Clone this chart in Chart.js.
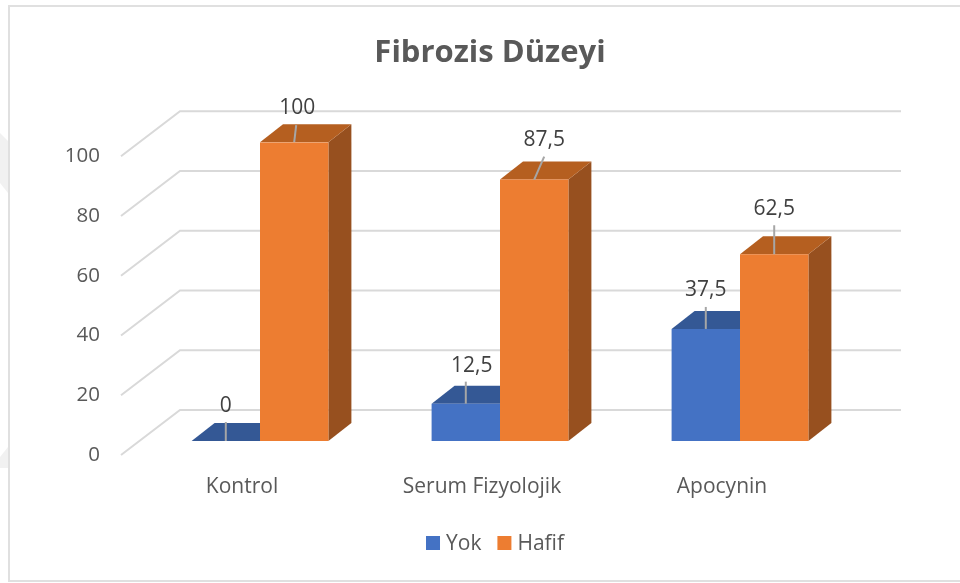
<!DOCTYPE html>
<html lang="tr">
<head>
<meta charset="utf-8">
<title>Fibrozis Düzeyi</title>
<script src="https://cdn.jsdelivr.net/npm/chart.js@4/dist/chart.umd.min.js"></script>
<style>
  html, body { margin: 0; padding: 0; background: #fff; }
  #wrap { position: relative; width: 960px; height: 583px; }
  canvas { display: block; }
</style>
</head>
<body>
<div id="wrap"><canvas id="barChart" width="960" height="583"></canvas></div>
<script>
const categories = ['Kontrol', 'Serum Fizyolojik', 'Apocynin'];
const yokValues = [0, 12.5, 37.5];
const hafifValues = [100, 87.5, 62.5];

const textColor = '#595959';
const gridColor = '#d9d9d9';
const fontFamily = "'Open Sans', 'Noto Sans', sans-serif";

// depth of the bars and of the back wall, in px
const barDepth = { x: 23, y: -18 };
const wallDepth = { x: 59, y: -45 };

// label and leader line end, relative to the bar top centre: [dataset][category]
const labelShift = [
  [[0, -35, 0, -19], [6, -38, 0, -22], [0, -39, 0, -22]],
  [[3, -34, 2, -17], [10, -40, 10, -23], [0, -45, 0, -29]],
];

const sideColors = ['#2f5597', '#97501f'];
const topColors = ['#345895', '#b55f20'];

const fmt = (v) => String(v).replace('.', ',');

const poly = (ctx, color, pts) => {
  ctx.fillStyle = color;
  ctx.beginPath();
  pts.forEach((p, i) => (i ? ctx.lineTo(p[0], p[1]) : ctx.moveTo(p[0], p[1])));
  ctx.closePath();
  ctx.fill();
};

const framePlugin = {
  id: 'frame',
  beforeDraw(chart) {
    const { ctx } = chart;
    ctx.save();
    // faint watermark at the page edge
    poly(ctx, '#f1f1f1', [[0, 133], [8, 141], [8, 193], [0, 183]]);
    poly(ctx, '#f1f1f1', [[0, 457], [8, 447], [8, 468], [0, 468]]);
    // frame has no right side in the source
    ctx.strokeStyle = '#e0e0e0';
    ctx.lineWidth = 2;
    ctx.beginPath();
    ctx.moveTo(960, 6);
    ctx.lineTo(9, 6);
    ctx.lineTo(9, 581);
    ctx.lineTo(960, 581);
    ctx.stroke();
    ctx.restore();
  },
};

const wallPlugin = {
  id: 'wall',
  beforeDatasetsDraw(chart) {
    const { ctx, scales: { y }, chartArea } = chart;
    ctx.save();
    ctx.strokeStyle = gridColor;
    ctx.lineWidth = 2;
    y.ticks.forEach((t) => {
      const py = y.getPixelForValue(t.value);
      ctx.beginPath();
      ctx.moveTo(chartArea.left - 19, py + 14);
      ctx.lineTo(chartArea.left - 19 + wallDepth.x, py + 14 + wallDepth.y);
      ctx.lineTo(901, py + 14 + wallDepth.y);
      ctx.stroke();
    });
    // depth faces go under the front faces the library draws
    chart.data.datasets.forEach((ds, d) => {
      chart.getDatasetMeta(d).data.forEach((bar) => {
        const l = bar.x - bar.width / 2;
        const r = bar.x + bar.width / 2;
        const dx = barDepth.x;
        const dy = barDepth.y;
        poly(ctx, sideColors[d], [[r, bar.y], [r + dx, bar.y + dy], [r + dx, bar.base + dy], [r, bar.base]]);
        poly(ctx, topColors[d], [[l, bar.y], [l + dx, bar.y + dy], [r + dx, bar.y + dy], [r, bar.y]]);
      });
    });
    ctx.restore();
  },
};

const valueLabelPlugin = {
  id: 'valueLabels',
  afterDatasetsDraw(chart) {
    const { ctx } = chart;
    ctx.save();
    ctx.font = `21px ${fontFamily}`;
    ctx.textAlign = 'center';
    ctx.textBaseline = 'middle';
    chart.data.datasets.forEach((ds, d) => {
      chart.getDatasetMeta(d).data.forEach((bar, i) => {
        const s = labelShift[d][i];
        ctx.strokeStyle = '#a6a6a6';
        ctx.lineWidth = 2;
        ctx.beginPath();
        ctx.moveTo(bar.x, bar.y);
        ctx.lineTo(bar.x + s[2], bar.y + s[3]);
        ctx.stroke();
        ctx.fillStyle = '#404040';
        ctx.fillText(fmt(ds.data[i]), bar.x + s[0], bar.y + s[1]);
      });
    });
    ctx.restore();
  },
};

// the built-in legend forces a wide gap between box and text, so it is drawn here
const legendPlugin = {
  id: 'tightLegend',
  afterDraw(chart) {
    const { ctx } = chart;
    const box = 14;
    const boxGap = 6;
    const itemGap = 16;
    const cy = 543;
    ctx.save();
    ctx.font = `21px ${fontFamily}`;
    ctx.textBaseline = 'middle';
    const items = chart.data.datasets.map((ds) => ({
      text: ds.label,
      color: ds.backgroundColor,
      w: ctx.measureText(ds.label).width,
    }));
    const total = items.reduce((s, it) => s + box + boxGap + it.w, 0) + itemGap * (items.length - 1);
    let x = 495 - total / 2;
    items.forEach((it) => {
      ctx.fillStyle = it.color;
      ctx.fillRect(x, cy - box / 2, box, box);
      x += box + boxGap;
      ctx.fillStyle = textColor;
      ctx.fillText(it.text, x, cy + 1.5);
      x += it.w + itemGap;
    });
    ctx.restore();
  },
};

new Chart(document.getElementById('barChart'), {
  type: 'bar',
  data: {
    labels: categories,
    datasets: [
      { label: 'Yok', data: yokValues, backgroundColor: '#4472c4' },
      { label: 'Hafif', data: hafifValues, backgroundColor: '#ed7d31' },
    ],
  },
  options: {
    responsive: false,
    animation: false,
    categoryPercentage: 0.57,
    barPercentage: 1,
    layout: { padding: { left: 20, right: 0, top: 35, bottom: 50 } },
    plugins: {
      title: {
        display: true,
        text: 'Fibrozis Düzeyi',
        color: textColor,
        font: { family: fontFamily, size: 31, weight: 'bold' },
        padding: { top: 0, bottom: 70 },
      },
      legend: { display: false },
      tooltip: { enabled: false },
    },
    scales: {
      x: {
        grid: { display: false },
        border: { display: false },
        ticks: { color: textColor, font: { family: fontFamily, size: 21 }, labelOffset: -18, padding: 25 },
        afterFit: (scale) => { scale.height = 92; },
      },
      y: {
        min: 0,
        max: 100,
        grid: { display: false },
        border: { display: false },
        ticks: {
          stepSize: 20,
          color: textColor,
          font: { family: fontFamily, size: 20.5 },
          labelOffset: 14,
          padding: 32,
        },
        afterFit: (scale) => { scale.width = 120; },
      },
      // empty axis, only reserves the room to the right of the plot
      spacer: {
        position: 'right',
        grid: { display: false },
        border: { display: false },
        ticks: { display: false },
        afterFit: (scale) => { scale.width = 100; },
      },
    },
  },
  plugins: [framePlugin, wallPlugin, valueLabelPlugin, legendPlugin],
});
</script>
</body>
</html>
